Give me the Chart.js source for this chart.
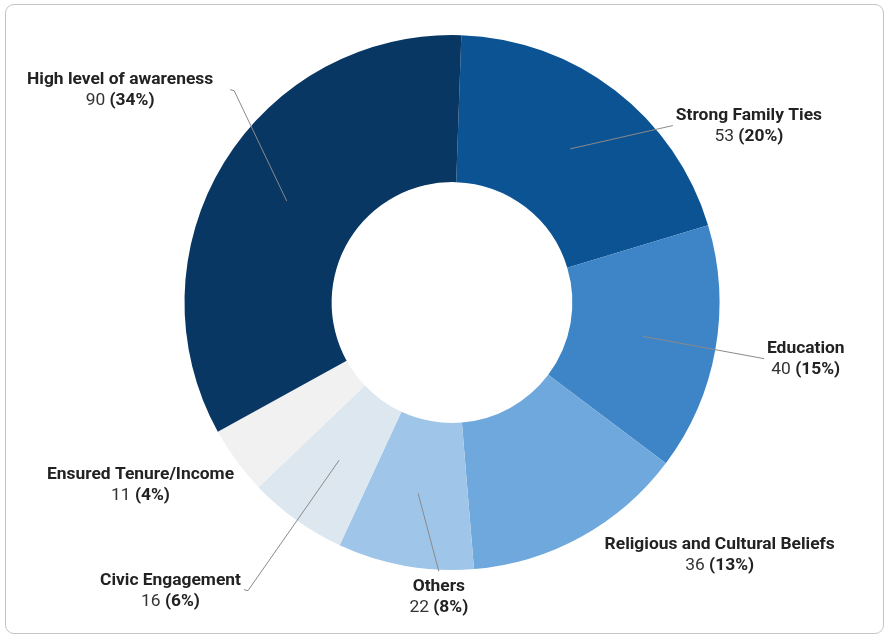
<!DOCTYPE html>
<html>
<head>
<meta charset="utf-8">
<script src="https://cdn.jsdelivr.net/npm/chart.js@4/dist/chart.umd.min.js"></script>
<style>
  html, body { margin: 0; padding: 0; background: #fff; }
  #wrap { position: relative; width: 888px; height: 638px; }
  #card {
    position: absolute; left: 5px; top: 4px; width: 879px; height: 630px;
    border: 1px solid #c4c4c4; border-radius: 9px; box-sizing: border-box;
    pointer-events: none;
  }
  canvas { position: absolute; left: 0; top: 0; }
</style>
</head>
<body>
<div id="wrap">
  <canvas id="chart" width="888" height="638"></canvas>
  <div id="card"></div>
</div>
<script>
// Reasons, in clockwise order starting at the top
const categories = [
  'Strong Family Ties',
  'Education',
  'Religious and Cultural Beliefs',
  'Others',
  'Civic Engagement',
  'Ensured Tenure/Income',
  'High level of awareness'
];
const counts = [53, 40, 36, 22, 16, 11, 90];
const sliceColors = ['#0c5394', '#3d85c6', '#6fa8dc', '#9fc5e8', '#dde7ef', '#f1f1f1', '#083763'];

// Callout placement: angle (deg, clockwise from top), distance as a multiple of
// the outer radius, which side of the anchor the text sits on, and the gap to the text.
const calloutAngle = [51.3, 100.2, 133.3, 182.8, 215.3, 239.6, 314.2];
const calloutDist  = [1.058, 1.185, 1.375, 1.006, 1.32, 1.35, 1.136];
const calloutSide  = ['left', 'left', 'center', 'below', 'right', 'center', 'right'];
const calloutGap   = [3, 3, 0, 0, 3, 0, 17];

const total = counts.reduce((a, b) => a + b, 0);

const calloutPlugin = {
  id: 'callouts',
  afterDraw(chart) {
    const ctx = chart.ctx;
    const meta = chart.getDatasetMeta(0);
    const FONT = 'Roboto, "Liberation Sans", sans-serif';
    const SIZE = '17.4px ';
    meta.data.forEach((arc, i) => {
      const p = arc.getProps(['x', 'y', 'startAngle', 'endAngle', 'innerRadius', 'outerRadius'], true);
      const mid = (p.startAngle + p.endAngle) / 2;
      const rMid = (p.innerRadius + p.outerRadius) / 2;
      const sx = p.x + Math.cos(mid) * rMid;
      const sy = p.y + Math.sin(mid) * rMid;
      const a = (calloutAngle[i] - 90) * Math.PI / 180;
      const ax = p.x + Math.cos(a) * p.outerRadius * calloutDist[i];
      const ay = p.y + Math.sin(a) * p.outerRadius * calloutDist[i];
      const side = calloutSide[i];

      ctx.save();
      ctx.strokeStyle = '#8a8a8a';
      ctx.lineWidth = 1;
      let ex = ax;
      if (side !== 'center') {
        ctx.beginPath();
        ctx.moveTo(sx, sy);
        ctx.lineTo(ax, ay);
        if (side === 'right') { ex = ax - 4; ctx.lineTo(ex, ay - 1); }
        ctx.stroke();
      }

      const name = categories[i];
      const v = String(counts[i]) + ' ';
      const pct = '(' + Math.round(counts[i] / total * 100) + '%)';
      ctx.font = 'bold ' + SIZE + FONT;
      const wName = ctx.measureText(name).width;
      const wPct = ctx.measureText(pct).width;
      ctx.font = SIZE + FONT;
      const wV = ctx.measureText(v).width;
      const blockW = Math.max(wName, wV + wPct);
      const lineH = 21;

      let cx, cy;
      if (side === 'left') { cx = ax + calloutGap[i] + blockW / 2; cy = ay + 0.5; }
      else if (side === 'right') { cx = ex - calloutGap[i] - blockW / 2; cy = ay; }
      else if (side === 'below') { cx = ax; cy = ay + 26; }
      else { cx = ax; cy = ay; }

      ctx.textBaseline = 'middle';
      ctx.textAlign = 'center';
      ctx.fillStyle = '#222';
      ctx.font = 'bold ' + SIZE + FONT;
      ctx.fillText(name, cx, cy - lineH / 2);
      const lx = cx - (wV + wPct) / 2;
      ctx.textAlign = 'left';
      ctx.font = SIZE + FONT;
      ctx.fillStyle = '#333';
      ctx.fillText(v, lx, cy + lineH / 2);
      ctx.font = 'bold ' + SIZE + FONT;
      ctx.fillStyle = '#222';
      ctx.fillText(pct, lx + wV, cy + lineH / 2);
      ctx.restore();
    });
  }
};

new Chart(document.getElementById('chart'), {
  type: 'doughnut',
  data: {
    labels: categories,
    datasets: [{
      data: counts,
      backgroundColor: sliceColors,
      borderWidth: 0
    }]
  },
  options: {
    responsive: false,
    animation: false,
    cutout: '45%',
    rotation: 2,
    layout: { padding: { top: 35, bottom: 68, left: 16, right: 0 } },
    plugins: {
      legend: { display: false },
      tooltip: { enabled: false }
    }
  },
  plugins: [calloutPlugin]
});
</script>
</body>
</html>
